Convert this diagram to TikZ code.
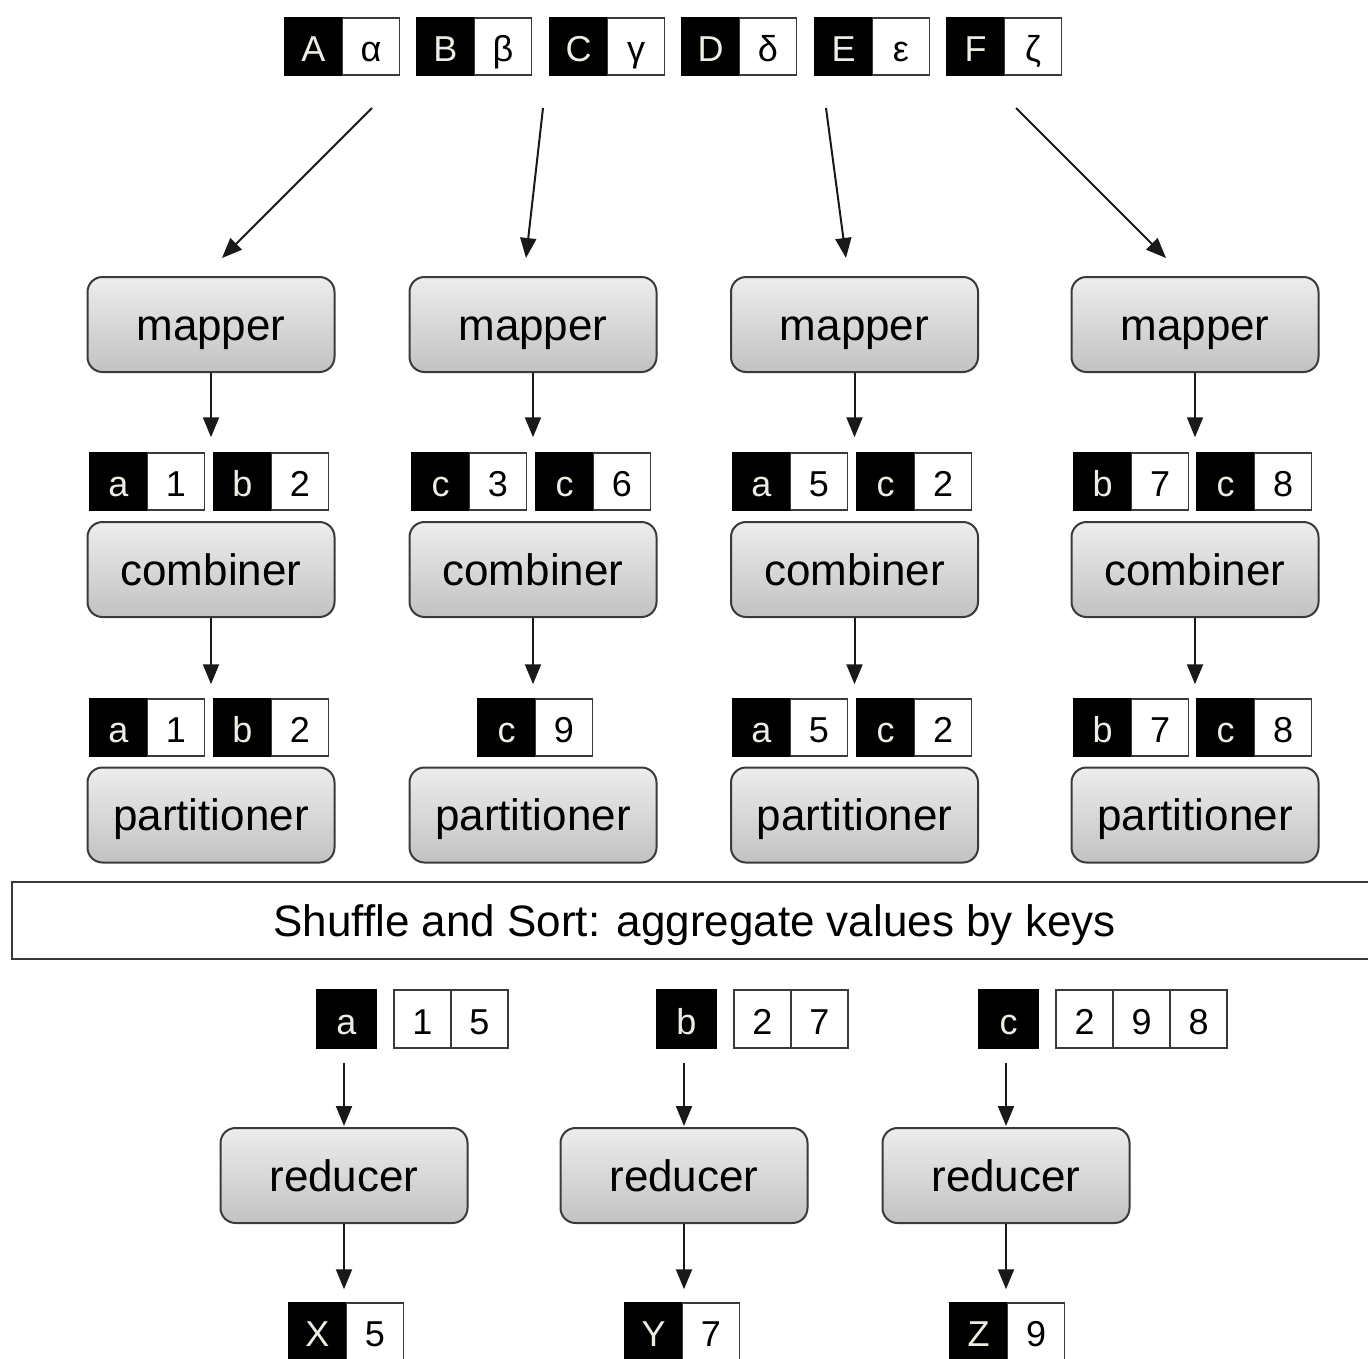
\documentclass[tikz,border=0pt]{standalone}
\usepackage{fontspec}
\setmainfont{Liberation Sans}
\usetikzlibrary{arrows.meta}
\definecolor{boxtop}{HTML}{EDEDED}
\definecolor{boxbot}{HTML}{C2C2C2}
\definecolor{boxline}{HTML}{3A3A3A}
\definecolor{keytxt}{HTML}{EEEDE4}
% #1 name, #2 left x, #3 top y, #4 key, #5 value
\newcommand\kvp[5]{%
  \node[kcell] (#1k) at ({#2+28.5},{#3+28.5}) {#4};
  \node[vcell] (#1v) at ({#2+86},{#3+28.5}) {#5};}
\begin{document}
\begin{tikzpicture}[x=1pt,y=-1pt,
  cellbase/.style={line width=1.5pt, minimum width=57pt, minimum height=57pt,
    inner sep=0pt, font=\fontsize{36}{40}\selectfont, text height=30pt, text depth=0pt},
  kcell/.style={cellbase, fill=black, draw=black, text=keytxt},
  vcell/.style={cellbase, fill=white, draw=boxline, text=black},
  proc/.style={draw=boxline, line width=2pt, rounded corners=15pt,
    top color=boxtop, bottom color=boxbot, minimum width=247pt, minimum height=95pt,
    inner sep=0pt, font=\fontsize{44}{50}\selectfont, text height=31pt, text depth=0pt},
  arr/.style={line width=2pt, draw=black!90, -{Triangle[length=20pt,width=16pt]}}]
\useasboundingbox (0,0) rectangle (1368,1358);

% input pairs
\kvp{tA}{285}{18}{A}{α}
\kvp{tB}{417}{18}{B}{β}
\kvp{tC}{550}{18}{C}{γ}
\kvp{tD}{682}{18}{D}{δ}
\kvp{tE}{815}{18}{E}{ε}
\kvp{tF}{947}{18}{F}{ζ}

% mappers, combiners, partitioners
\foreach \i/\cx in {1/211,2/533,3/854.5,4/1195}{
  \node[proc] (map\i) at (\cx,324.5) {mapper};
  \node[proc] (comb\i) at (\cx,569.5) {combiner};
  \node[proc] (part\i) at (\cx,815) {partitioner};
}

% top arrows
\coordinate (s1) at (372,108); \coordinate (e1) at (222,258);
\coordinate (s2) at (543,108); \coordinate (e2) at (526,258);
\coordinate (s3) at (826,108); \coordinate (e3) at (846,258);
\coordinate (s4) at (1016,108); \coordinate (e4) at (1166,258);
\foreach \i in {1,2,3,4}{\draw[arr] (s\i) -- (e\i);}

% mapper outputs
\kvp{m1a}{90}{453}{a}{1}
\kvp{m1b}{214}{453}{b}{2}
\kvp{m2a}{412}{453}{c}{3}
\kvp{m2b}{536}{453}{c}{6}
\kvp{m3a}{733}{453}{a}{5}
\kvp{m3b}{857}{453}{c}{2}
\kvp{m4a}{1074}{453}{b}{7}
\kvp{m4b}{1197}{453}{c}{8}

% combiner outputs
\kvp{c1a}{90}{699}{a}{1}
\kvp{c1b}{214}{699}{b}{2}
\kvp{c2a}{478}{699}{c}{9}
\kvp{c3a}{733}{699}{a}{5}
\kvp{c3b}{857}{699}{c}{2}
\kvp{c4a}{1074}{699}{b}{7}
\kvp{c4b}{1197}{699}{c}{8}

\foreach \i in {1,2,3,4}{
  \draw[arr, shorten >=15pt] (map\i.south) -- (map\i.south |- m1ak.north);
  \draw[arr, shorten >=14pt] (comb\i.south) -- (comb\i.south |- c1ak.north);
}

% shuffle
\node[draw=boxline, line width=2pt, minimum width=1365pt, minimum height=77pt,
  inner sep=0pt, font=\fontsize{44}{50}\selectfont, text height=31pt, text depth=0pt]
  (shuffle) at (694.5,920.5) {Shuffle and Sort: aggregate values by keys};

% grouped keys and values
\node[kcell, minimum width=59pt, minimum height=58pt] (ga) at (346.5,1019) {a};
\node[vcell, minimum height=58pt] (ga1) at (422.5,1019) {1};
\node[vcell, minimum height=58pt] (ga2) at (479.5,1019) {5};
\node[kcell, minimum width=59pt, minimum height=58pt] (gb) at (686.5,1019) {b};
\node[vcell, minimum height=58pt] (gb1) at (762.5,1019) {2};
\node[vcell, minimum height=58pt] (gb2) at (819.5,1019) {7};
\node[kcell, minimum width=59pt, minimum height=58pt] (gc) at (1008.5,1019) {c};
\node[vcell, minimum height=58pt] (gc1) at (1084.5,1019) {2};
\node[vcell, minimum height=58pt] (gc2) at (1141.5,1019) {9};
\node[vcell, minimum height=58pt] (gc3) at (1198.5,1019) {8};

% reducers
\node[proc] (red1) at (344,1175.5) {reducer};
\node[proc] (red2) at (684,1175.5) {reducer};
\node[proc] (red3) at (1006,1175.5) {reducer};

% outputs
\kvp{oX}{289}{1303}{X}{5}
\kvp{oY}{625}{1303}{Y}{7}
\kvp{oZ}{950}{1303}{Z}{9}

\draw[arr, shorten <=14pt, shorten >=1pt] (red1.north |- ga.south) -- (red1.north);
\draw[arr, shorten <=14pt, shorten >=1pt] (red2.north |- gb.south) -- (red2.north);
\draw[arr, shorten <=14pt, shorten >=1pt] (red3.north |- gc.south) -- (red3.north);
\draw[arr, shorten >=13pt] (red1.south) -- (red1.south |- oXk.north);
\draw[arr, shorten >=13pt] (red2.south) -- (red2.south |- oYk.north);
\draw[arr, shorten >=13pt] (red3.south) -- (red3.south |- oZk.north);
\end{tikzpicture}
\end{document}
